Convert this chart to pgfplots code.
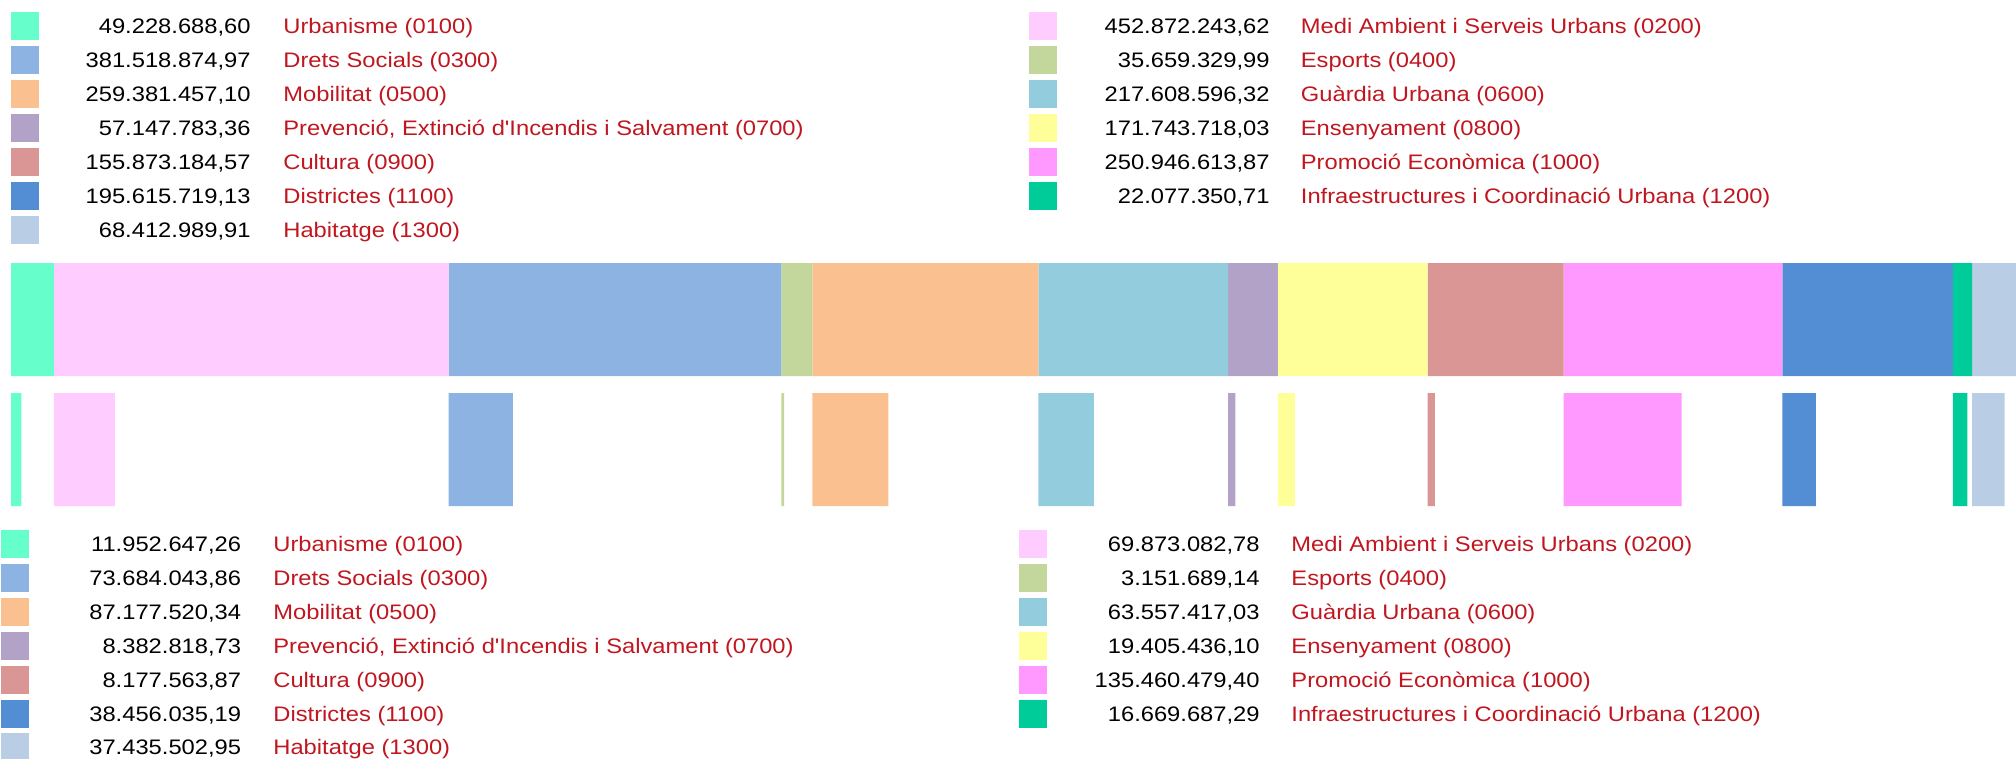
\documentclass[border=0pt]{standalone}
\usepackage{pgfplots}
\pgfplotsset{compat=1.18}
\usepackage{fontspec}
\setmainfont{Liberation Sans}[FakeStretch=1.13, Ligatures=TeXOff]
\definecolor{cU}{HTML}{66FFCC}
\definecolor{cM}{HTML}{FFCCFF}
\definecolor{cD}{HTML}{8DB3E2}
\definecolor{cE}{HTML}{C3D69B}
\definecolor{cMo}{HTML}{FAC090}
\definecolor{cG}{HTML}{93CDDD}
\definecolor{cP}{HTML}{B2A2C7}
\definecolor{cEn}{HTML}{FFFF99}
\definecolor{cC}{HTML}{D99694}
\definecolor{cPr}{HTML}{FF99FF}
\definecolor{cDi}{HTML}{538ED5}
\definecolor{cI}{HTML}{00CC99}
\definecolor{cH}{HTML}{B9CDE5}
\definecolor{lab}{HTML}{C0161F}
\begin{document}
\begin{tikzpicture}
\useasboundingbox (0,0) rectangle (1008pt,-379.5pt);
\begin{axis}[at={(5.5pt,-253pt)}, anchor=south west, scale only axis,
  width=1002.5pt, height=121.5pt, xmin=0, xmax=2300.1,
  ymin=-0.4346, ymax=1.4346, hide axis, clip=true,
  xbar stacked, bar width=56.5pt]
% each area: (budget, top row) (executed, bottom row), then an empty gap on the bottom row
\addplot[fill=cU, draw=none] coordinates {(49.228689,1) (11.952647,0)};
\addplot[fill=none, draw=none] coordinates {(0,1) (37.276042,0)};
\addplot[fill=cM, draw=none] coordinates {(452.872244,1) (69.873083,0)};
\addplot[fill=none, draw=none] coordinates {(0,1) (382.999161,0)};
\addplot[fill=cD, draw=none] coordinates {(381.518875,1) (73.684044,0)};
\addplot[fill=none, draw=none] coordinates {(0,1) (307.834831,0)};
\addplot[fill=cE, draw=none] coordinates {(35.659330,1) (3.151689,0)};
\addplot[fill=none, draw=none] coordinates {(0,1) (32.507641,0)};
\addplot[fill=cMo, draw=none] coordinates {(259.381457,1) (87.177520,0)};
\addplot[fill=none, draw=none] coordinates {(0,1) (172.203937,0)};
\addplot[fill=cG, draw=none] coordinates {(217.608596,1) (63.557417,0)};
\addplot[fill=none, draw=none] coordinates {(0,1) (154.051179,0)};
\addplot[fill=cP, draw=none] coordinates {(57.147783,1) (8.382819,0)};
\addplot[fill=none, draw=none] coordinates {(0,1) (48.764964,0)};
\addplot[fill=cEn, draw=none] coordinates {(171.743718,1) (19.405436,0)};
\addplot[fill=none, draw=none] coordinates {(0,1) (152.338282,0)};
\addplot[fill=cC, draw=none] coordinates {(155.873185,1) (8.177564,0)};
\addplot[fill=none, draw=none] coordinates {(0,1) (147.695621,0)};
\addplot[fill=cPr, draw=none] coordinates {(250.946614,1) (135.460479,0)};
\addplot[fill=none, draw=none] coordinates {(0,1) (115.486135,0)};
\addplot[fill=cDi, draw=none] coordinates {(195.615719,1) (38.456035,0)};
\addplot[fill=none, draw=none] coordinates {(0,1) (157.159684,0)};
\addplot[fill=cI, draw=none] coordinates {(22.077351,1) (16.669687,0)};
\addplot[fill=none, draw=none] coordinates {(0,1) (5.407664,0)};
\addplot[fill=cH, draw=none] coordinates {(68.412990,1) (37.435503,0)};
\end{axis}
\begin{scope}[x=0.5pt, y=-0.5pt, every node/.style={inner sep=0pt, font=\fontsize{10.5pt}{12pt}\selectfont}]
% top legend, left column
\foreach \c/\n/\l [count=\k from 0] in {
  cU/{49.228.688,60}/{Urbanisme (0100)},
  cD/{381.518.874,97}/{Drets Socials (0300)},
  cMo/{259.381.457,10}/{Mobilitat (0500)},
  cP/{57.147.783,36}/{Prevenció, Extinció d'Incendis i Salvament (0700)},
  cC/{155.873.184,57}/{Cultura (0900)},
  cDi/{195.615.719,13}/{Districtes (1100)},
  cH/{68.412.989,91}/{Habitatge (1300)}}{
  \fill[\c] (11,12+34*\k) rectangle (39,40+34*\k);
  \node[anchor=base east] at (251,33.5+34*\k) {\n};
  \node[anchor=base west, text=lab] at (283,33.5+34*\k) {\l};
}
% top legend, right column
\foreach \c/\n/\l [count=\k from 0] in {
  cM/{452.872.243,62}/{Medi Ambient i Serveis Urbans (0200)},
  cE/{35.659.329,99}/{Esports (0400)},
  cG/{217.608.596,32}/{Guàrdia Urbana (0600)},
  cEn/{171.743.718,03}/{Ensenyament (0800)},
  cPr/{250.946.613,87}/{Promoció Econòmica (1000)},
  cI/{22.077.350,71}/{Infraestructures i Coordinació Urbana (1200)}}{
  \fill[\c] (1029,12+34*\k) rectangle (1057,40+34*\k);
  \node[anchor=base east] at (1270,33.5+34*\k) {\n};
  \node[anchor=base west, text=lab] at (1300.5,33.5+34*\k) {\l};
}
% bottom legend, left column
\foreach \c/\n/\l [count=\k from 0] in {
  cU/{11.952.647,26}/{Urbanisme (0100)},
  cD/{73.684.043,86}/{Drets Socials (0300)},
  cMo/{87.177.520,34}/{Mobilitat (0500)},
  cP/{8.382.818,73}/{Prevenció, Extinció d'Incendis i Salvament (0700)},
  cC/{8.177.563,87}/{Cultura (0900)},
  cDi/{38.456.035,19}/{Districtes (1100)},
  cH/{37.435.502,95}/{Habitatge (1300)}}{
  \fill[\c] (1,530+33.9*\k) rectangle (29,558+33.9*\k);
  \node[anchor=base east] at (241.5,551.5+33.9*\k) {\n};
  \node[anchor=base west, text=lab] at (273,551.5+33.9*\k) {\l};
}
% bottom legend, right column
\foreach \c/\n/\l [count=\k from 0] in {
  cM/{69.873.082,78}/{Medi Ambient i Serveis Urbans (0200)},
  cE/{3.151.689,14}/{Esports (0400)},
  cG/{63.557.417,03}/{Guàrdia Urbana (0600)},
  cEn/{19.405.436,10}/{Ensenyament (0800)},
  cPr/{135.460.479,40}/{Promoció Econòmica (1000)},
  cI/{16.669.687,29}/{Infraestructures i Coordinació Urbana (1200)}}{
  \fill[\c] (1019,530+33.9*\k) rectangle (1047,558+33.9*\k);
  \node[anchor=base east] at (1260,551.5+33.9*\k) {\n};
  \node[anchor=base west, text=lab] at (1291,551.5+33.9*\k) {\l};
}
\end{scope}
\end{tikzpicture}
\end{document}
